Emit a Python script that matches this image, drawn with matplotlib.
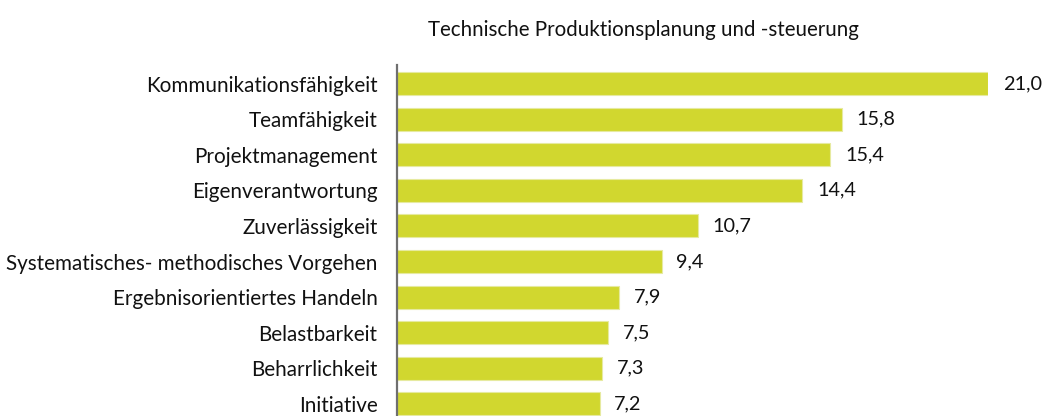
import matplotlib
matplotlib.use("Agg")
import matplotlib.pyplot as plt

categories = ["Kommunikationsfähigkeit", "Teamfähigkeit", "Projektmanagement",
              "Eigenverantwortung", "Zuverlässigkeit",
              "Systematisches- methodisches Vorgehen",
              "Ergebnisorientiertes Handeln", "Belastbarkeit",
              "Beharrlichkeit", "Initiative"]
values = [21.0, 15.8, 15.4, 14.4, 10.7, 9.4, 7.9, 7.5, 7.3, 7.2]
title = "Technische Produktionsplanung und -steuerung"

plt.rcParams['font.family'] = ['Lato', 'DejaVu Sans']

W, H = 1043, 416
fig = plt.figure(figsize=(W / 100, H / 100), dpi=100)
ax = fig.add_axes([397 / W, 0, (988 - 397) / W, (H - 65) / H])

ypos = list(range(len(categories)))
ax.barh(ypos, values, height=0.65, color='#d1d72f', edgecolor='#e6eaa0',
        linewidth=0.8)
ax.set_xlim(0, 21)
ax.set_ylim(9.34, -0.52)

for y, v in zip(ypos, values):
    ax.text(v + 0.52, y, f"{v:.1f}".replace('.', ','), va='center', ha='left',
            fontsize=14.3, color='#111111', clip_on=False)

ax.set_yticks(ypos)
ax.set_yticklabels(categories, fontsize=14.9, color='#111111')
ax.tick_params(axis='y', length=0, pad=14)
ax.set_xticks([])
for s in ['top', 'right', 'bottom']:
    ax.spines[s].set_visible(False)
ax.spines['left'].set_color('#6f6f6f')
ax.spines['left'].set_linewidth(1.6)

fig.text(643 / W, 1 - 30 / H, title, ha='center', va='center', fontsize=14.8,
         color='#111111')

fig.savefig("out.png", dpi=100)
